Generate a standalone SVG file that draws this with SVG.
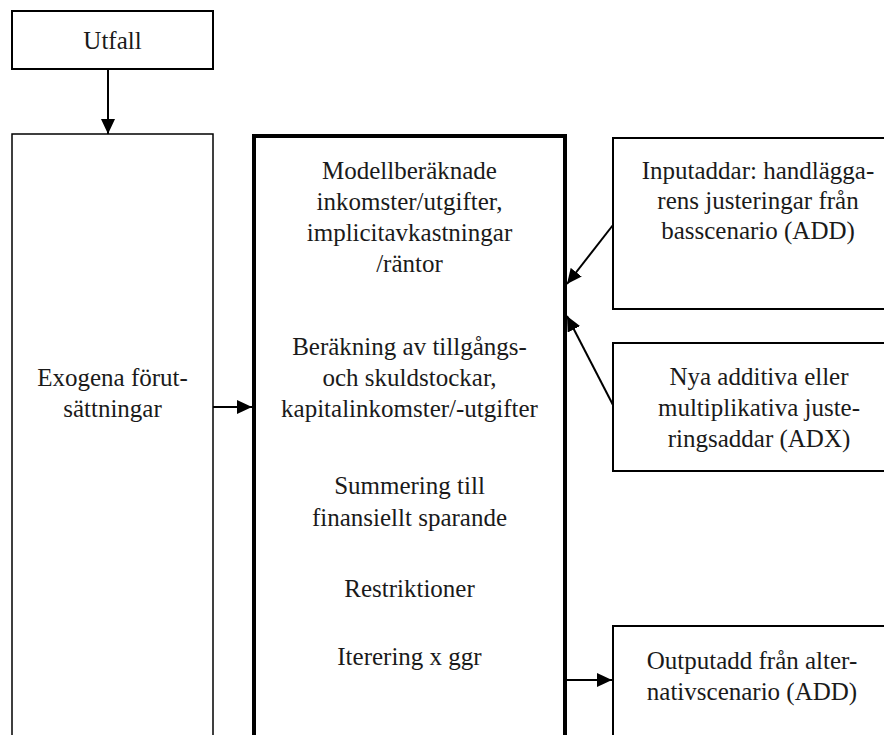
<svg xmlns="http://www.w3.org/2000/svg" width="884" height="735" viewBox="0 0 884 735">
<defs>
<marker id="ah" markerUnits="userSpaceOnUse" markerWidth="16" markerHeight="14" refX="15" refY="7" orient="auto"><path d="M0,0 L15,7 L0,14 Z" fill="#000"/></marker>
<style>
.t{font-family:"Liberation Serif","Times New Roman",serif;font-size:25px;fill:#1a1a1a;text-anchor:middle}
.box{fill:#fff;stroke:#000;stroke-width:2}
.thin{stroke-width:1.5}
.thick{stroke-width:4}
.c{fill:none;stroke:#000;stroke-width:2}
</style>
</defs>
<rect width="884" height="735" fill="#fff"/>
<g id="utfall">
<rect class="box" x="12" y="11" width="201" height="58"/>
<text class="t" x="112.5" y="49">Utfall</text>
</g>
<g id="exogena">
<rect class="box thin" x="12" y="134" width="201" height="640"/>
<text class="t" x="112.5" y="386">Exogena förut-</text>
<text class="t" x="112.5" y="417">sättningar</text>
</g>
<g id="modell">
<rect class="box thick" x="254" y="136" width="311" height="640"/>
<text class="t" x="409.5" y="179">Modellberäknade</text>
<text class="t" x="409.5" y="210">inkomster/utgifter,</text>
<text class="t" x="409.5" y="241">implicitavkastningar</text>
<text class="t" x="409.5" y="272">/räntor</text>
<text class="t" x="409.5" y="355">Beräkning av tillgångs-</text>
<text class="t" x="409.5" y="386">och skuldstockar,</text>
<text class="t" x="409.5" y="417">kapitalinkomster/-utgifter</text>
<text class="t" x="409.5" y="494">Summering till</text>
<text class="t" x="409.5" y="526">finansiellt sparande</text>
<text class="t" x="409.5" y="597">Restriktioner</text>
<text class="t" x="409.5" y="665">Iterering x ggr</text>
</g>
<g id="inputaddar">
<rect class="box" x="613" y="138" width="300" height="171"/>
<text class="t" x="758" y="179">Inputaddar: handlägga-</text>
<text class="t" x="758" y="209">rens justeringar från</text>
<text class="t" x="758" y="239">basscenario (ADD)</text>
</g>
<g id="nya">
<rect class="box" x="613" y="343" width="300" height="128"/>
<text class="t" x="759" y="385">Nya additiva eller</text>
<text class="t" x="759" y="416">multiplikativa juste-</text>
<text class="t" x="759" y="447">ringsaddar (ADX)</text>
</g>
<g id="outputadd">
<rect class="box" x="613" y="626" width="300" height="150"/>
<text class="t" x="752" y="669">Outputadd från alter-</text>
<text class="t" x="752" y="700">nativscenario (ADD)</text>
</g>
<g id="connectors">
<line class="c" x1="108" y1="69" x2="108" y2="134" marker-end="url(#ah)"/>
<line class="c" x1="213" y1="407" x2="252" y2="407" marker-end="url(#ah)"/>
<line class="c" x1="613" y1="225" x2="567" y2="284" marker-end="url(#ah)"/>
<line class="c" x1="613" y1="405" x2="567" y2="316" marker-end="url(#ah)"/>
<line class="c" x1="567" y1="680" x2="612" y2="680" marker-end="url(#ah)"/>
</g>
</svg>
